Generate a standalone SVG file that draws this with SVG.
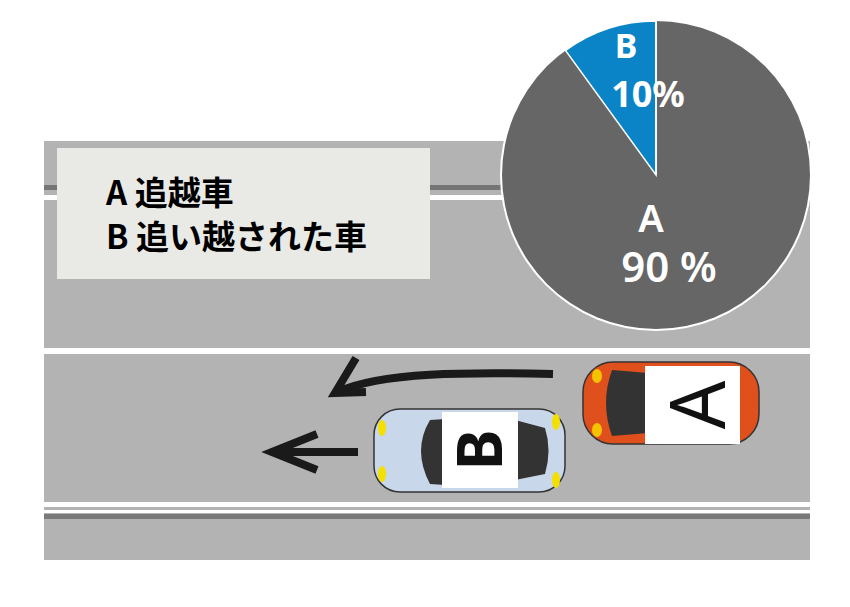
<svg xmlns="http://www.w3.org/2000/svg" width="850" height="607" viewBox="0 0 850 607">
<style>
.t{font-family:"Noto Sans CJK JP","Noto Sans",sans-serif;font-weight:bold}
.p{font-family:"Noto Sans","Liberation Sans",Arial,sans-serif;fill:#fff}
.ar{fill:none;stroke:#1a1a1a;stroke-width:8}
</style>
<rect width="850" height="607" fill="#fff"/>
<g id="road">
<rect x="44" y="141" width="766" height="419" fill="#b3b3b3"/>
<rect x="44" y="185" width="766" height="5" fill="#757575"/>
<rect x="44" y="195" width="766" height="5" fill="#fff"/>
<rect x="44" y="348" width="766" height="6" fill="#fff"/>
<rect x="44" y="502" width="766" height="5" fill="#fff"/>
<rect x="44" y="510" width="766" height="3" fill="#fff"/>
<rect x="44" y="514" width="766" height="5" fill="#7a7a7a"/>
</g>
<g id="legend">
<rect x="57" y="148" width="373" height="131" fill="#e9e9e6"/>
<text class="t" x="106" y="205" font-size="33">A 追越車</text>
<text class="t" x="106" y="249" font-size="33">B 追い越された車</text>
</g>
<g id="pie">
<circle cx="656" cy="175" r="156" fill="#fff"/>
<circle cx="656" cy="175" r="154" fill="#666"/>
<path d="M656,175 L656,21 A154,154 0 0 0 565.5,50.4 Z" fill="#0a84c6" stroke="#fff" stroke-width="1.5"/>
<line x1="656" y1="175" x2="656" y2="21" stroke="#fff" stroke-width="1.5"/>
<text class="p" x="626" y="58" font-size="34" font-weight="bold" text-anchor="middle">B</text>
<text class="p" x="648" y="107" font-size="36" font-weight="bold" text-anchor="middle">10%</text>
<text class="p" x="651" y="232" font-size="38" font-weight="600" text-anchor="middle">A</text>
<text class="p" x="669" y="282" font-size="42" font-weight="600" text-anchor="middle">90 %</text>
</g>
<g id="connectors">
<path class="ar" d="M553,374 C470,372 380,372 338,392"/>
<path class="ar" d="M356,358 L335,393 L366,392" stroke-width="7"/>
<line class="ar" x1="358" y1="452" x2="278" y2="452"/>
<path class="ar" d="M317,434 L272,452 L317,470" stroke-width="7"/>
</g>
<g id="carA">
<rect x="583" y="362" width="176" height="82" rx="30" fill="#e0501c" stroke="#333" stroke-width="1.5"/>
<path d="M612,370 Q600,403 612,436 L660,432 Q670,403 660,374 Z" fill="#333"/>
<ellipse cx="597" cy="376" rx="5" ry="7" fill="#f4c200"/>
<ellipse cx="597" cy="430" rx="5" ry="7" fill="#f4c200"/>
<rect x="645" y="366" width="95" height="78" fill="#fff"/>
<text class="p" x="0" y="0" font-size="76" style="fill:#111" text-anchor="middle" transform="translate(725,405) rotate(-90)">A</text>
</g>
<g id="carB">
<rect x="374" y="409" width="191" height="83" rx="26" fill="#c8d8ea" stroke="#333" stroke-width="1.5"/>
<path d="M430,420 Q412,450 430,484 L460,486 L460,418 Z" fill="#333"/>
<path d="M515,420 L545,428 Q552,450 545,474 L515,480 Z" fill="#333"/>
<ellipse cx="382" cy="428" rx="4" ry="8" fill="#f4e000"/>
<ellipse cx="382" cy="474" rx="4" ry="8" fill="#f4e000"/>
<ellipse cx="556" cy="422" rx="4" ry="8" fill="#f4e000"/>
<ellipse cx="556" cy="480" rx="4" ry="8" fill="#f4e000"/>
<rect x="442" y="412" width="76" height="76" fill="#fff"/>
<text class="p" x="0" y="0" font-size="62" font-weight="bold" style="fill:#111" text-anchor="middle" transform="translate(502,450) rotate(-90)">B</text>
</g>
</svg>
